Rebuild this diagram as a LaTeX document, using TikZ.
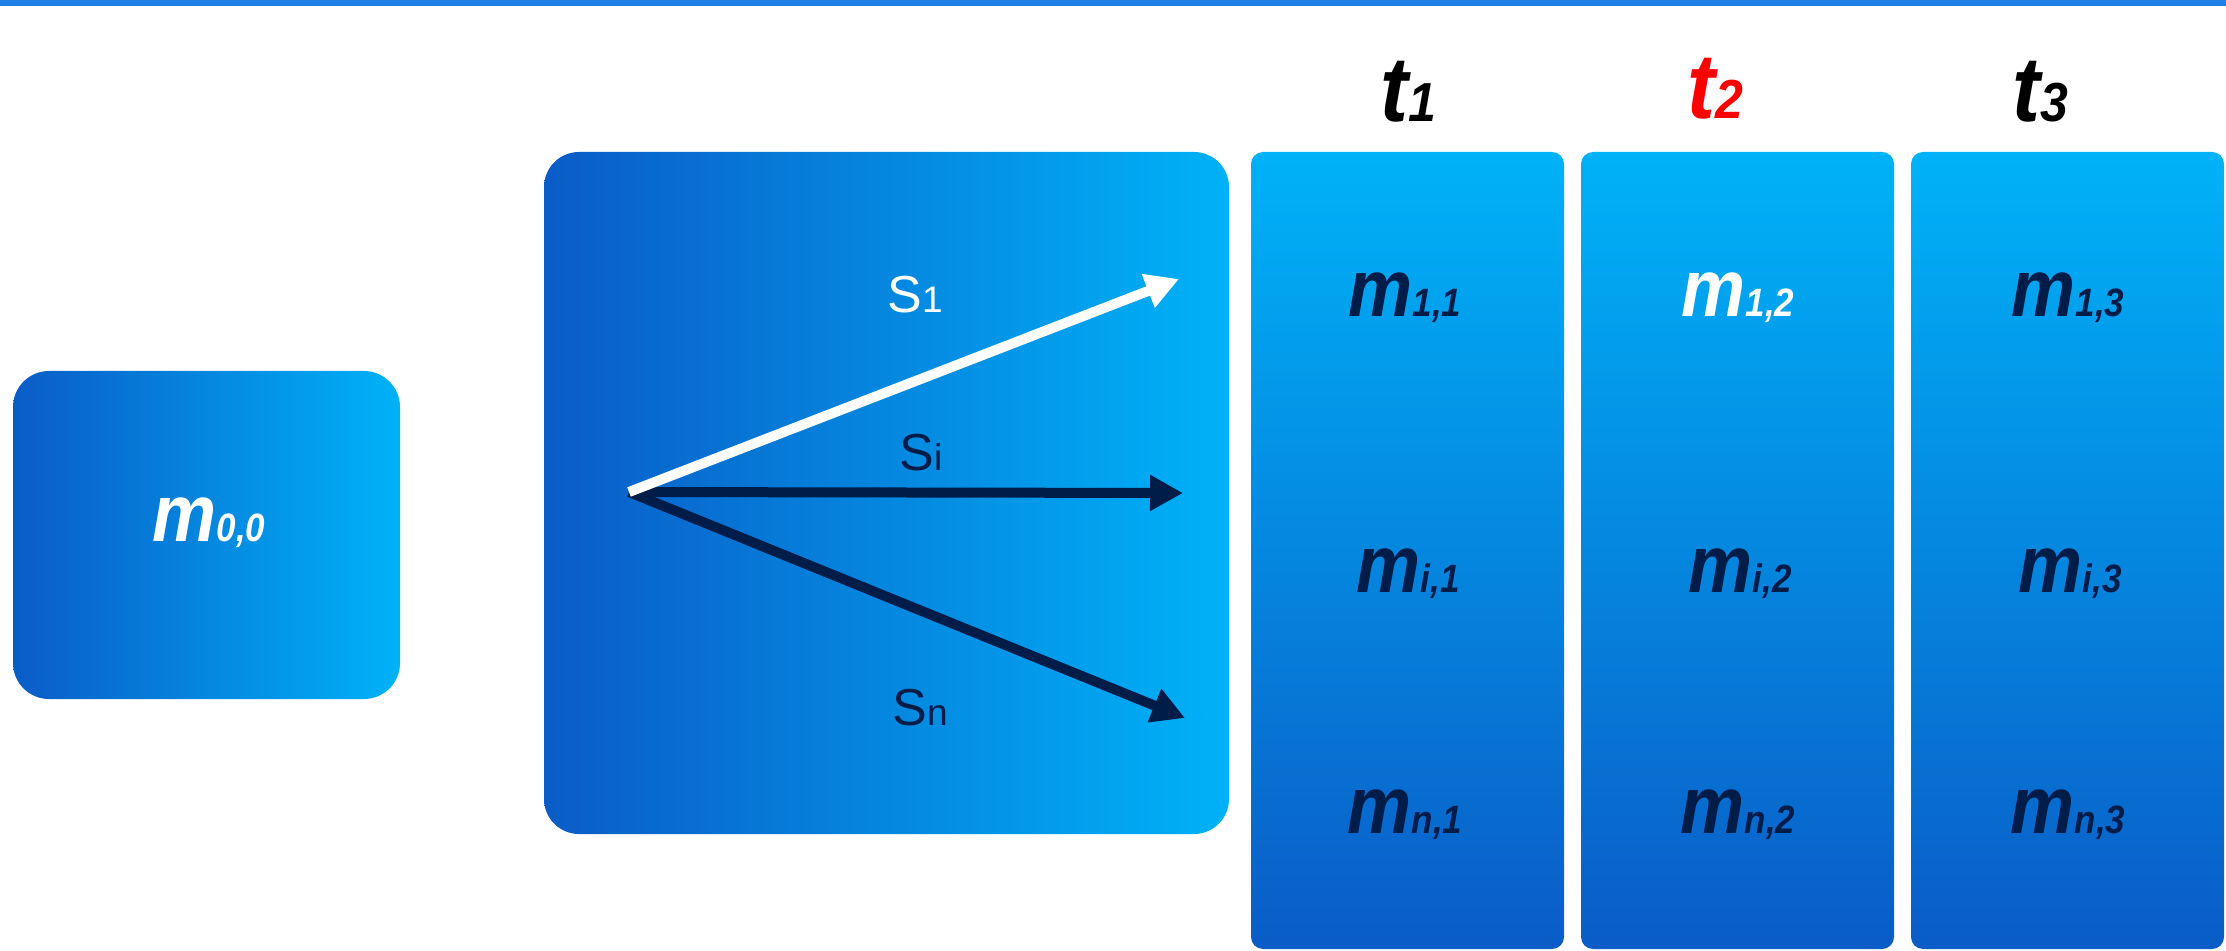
\documentclass[tikz,border=0pt]{standalone}
\usepackage{fontspec}
\usepackage{graphicx}
\setmainfont{Liberation Sans}
\usetikzlibrary{arrows.meta}
\definecolor{deepblue}{HTML}{0A5CC6}
\definecolor{skyblue}{HTML}{00B2F8}
\definecolor{navy}{HTML}{001C48}
\definecolor{barblue}{HTML}{1E7FE6}
\newcommand{\mlbl}[1]{\scalebox{1}[1.13]{{\fontsize{36}{36}\selectfont m}{\fontsize{17.5}{17.5}\selectfont #1}}}
\newcommand{\tlbl}[1]{\scalebox{1}[1.1]{{\fontsize{42}{42}\selectfont t}{\fontsize{25}{25}\selectfont #1}}}
\newcommand{\slbl}[1]{{\fontsize{26}{26}\selectfont S}{\fontsize{18.5}{18.5}\selectfont #1}}
\tikzset{
  hbox/.style={left color=deepblue, right color=skyblue, inner sep=0pt, draw=none},
  vbox/.style={top color=skyblue, bottom color=deepblue, rounded corners=6pt, inner sep=0pt,
    draw=none, minimum width=156.5pt, minimum height=398.5pt},
  mlab/.style={anchor=base, inner sep=0pt, font=\bfseries\itshape},
  tlab/.style={anchor=base, inner sep=0pt, font=\bfseries\itshape},
  slab/.style={anchor=base, inner sep=0pt},
  vec/.style={line width=5pt, -{Triangle[length=16.5pt,width=17pt]}},
}
\begin{document}
\begin{tikzpicture}[x=0.5pt,y=0.5pt]
\useasboundingbox (0,0) rectangle (2226,-951);
\fill[barblue] (0,-0.5) rectangle (2226,-6);

% left box
\node[hbox, rounded corners=18pt, minimum width=193.5pt, minimum height=164pt] (b00) at (206.5,-535) {};
\node[mlab, text=white] (m00) at (209,-541) {\mlbl{0,0}};

% big box with vectors
\node[hbox, rounded corners=17.5pt, minimum width=342.5pt, minimum height=341pt] (big) at (886.5,-493) {};
\coordinate (o) at (629,-492);
\coordinate (e1) at (1179,-279);
\coordinate (ei) at (1183,-493);
\coordinate (en) at (1185,-718);
\draw[vec, navy] (o) -- (ei);
\draw[vec, navy] (o) -- (en);
\draw[vec, white] (o) -- (e1);
\node[slab, text=white] (s1) at (915,-313) {\slbl{1}};
\node[slab, text=navy] (si) at (921,-471) {\slbl{i}};
\node[slab, text=navy] (sn) at (920,-725) {\slbl{n}};

% columns
\node[vbox] (c1) at (1407.5,-550.5) {};
\node[vbox] (c2) at (1737.5,-550.5) {};
\node[vbox] (c3) at (2067.5,-550.5) {};

\node[tlab, text=black] (t1) at (1408,-122) {\tlbl{1}};
\node[tlab, text=red] (t2) at (1715,-119) {\tlbl{2}};
\node[tlab, text=black] (t3) at (2040,-122) {\tlbl{3}};

\node[mlab, text=navy] (m11) at (1405,-317) {\mlbl{1,1}};
\node[mlab, text=navy] (mi1) at (1408,-592) {\mlbl{i,1}};
\node[mlab, text=navy] (mn1) at (1405,-833) {\mlbl{n,1}};

\node[mlab, text=white] (m12) at (1738,-317) {\mlbl{1,2}};
\node[mlab, text=navy] (mi2) at (1740,-592) {\mlbl{i,2}};
\node[mlab, text=navy] (mn2) at (1738,-833) {\mlbl{n,2}};

\node[mlab, text=navy] (m13) at (2068,-317) {\mlbl{1,3}};
\node[mlab, text=navy] (mi3) at (2070,-592) {\mlbl{i,3}};
\node[mlab, text=navy] (mn3) at (2068,-833) {\mlbl{n,3}};
\end{tikzpicture}
\end{document}
